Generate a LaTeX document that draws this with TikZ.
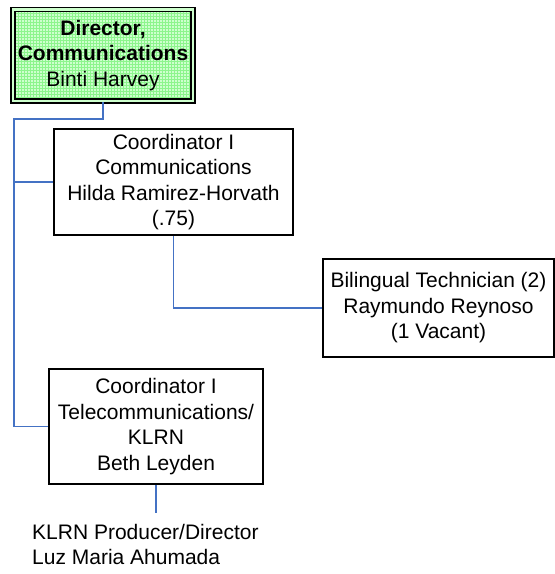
\documentclass[tikz,border=0pt]{standalone}
\usepackage{fontspec}
\setmainfont{Liberation Sans}
\usetikzlibrary{patterns}
\definecolor{linkblue}{RGB}{68,114,196}
\definecolor{palegreen}{RGB}{205,255,205}
\definecolor{gridgreen}{RGB}{140,245,140}
\tikzset{
  orgbox/.style={draw=black, line width=1.6pt, fill=white, inner sep=0pt, align=center,
    font=\fontsize{21}{25.5}\selectfont},
  topbox/.style={orgbox, double=palegreen, double distance=2.4pt,
    preaction={fill=palegreen}, pattern=grid, pattern color=gridgreen},
  link/.style={draw=linkblue, line width=1.3pt},
  plain/.style={inner sep=0pt, align=left, font=\fontsize{21}{25.5}\selectfont}
}
\begin{document}
\begin{tikzpicture}[x=1pt,y=-1pt]
\useasboundingbox (0,0) rectangle (555,574);
\node[topbox, minimum width=180pt, minimum height=91.5pt] (dir) at (103,55.25)
  {\textbf{Director,}\\\textbf{Communications}\\Binti Harvey};
\node[orgbox, minimum width=239pt, minimum height=106pt] (coord) at (173.5,182)
  {Coordinator I\\Communications\\Hilda Ramirez-Horvath\\(.75)};
\node[orgbox, minimum width=231pt, minimum height=98pt] (bil) at (438.5,308)
  {Bilingual Technician (2)\\Raymundo Reynoso\\(1 Vacant)};
\node[orgbox, minimum width=214pt, minimum height=115pt] (tel) at (156,426.5)
  {Coordinator I\\Telecommunications/\\KLRN\\Beth Leyden};
\node[plain, anchor=base west] (klrn) at (32,564.5)
  {KLRN Producer/Director\\Luz Maria Ahumada};
\coordinate (j1) at (14,119);
\coordinate (klrnjoin) at (156,513);
\draw[link] (dir.south) |- (j1) -- (j1 |- tel.west) -- (tel.west);
\draw[link] (j1 |- coord.west) -- (coord.west);
\draw[link] (coord.south) |- (bil.west);
\draw[link] (tel.south) -- (klrnjoin);
\end{tikzpicture}
\end{document}
